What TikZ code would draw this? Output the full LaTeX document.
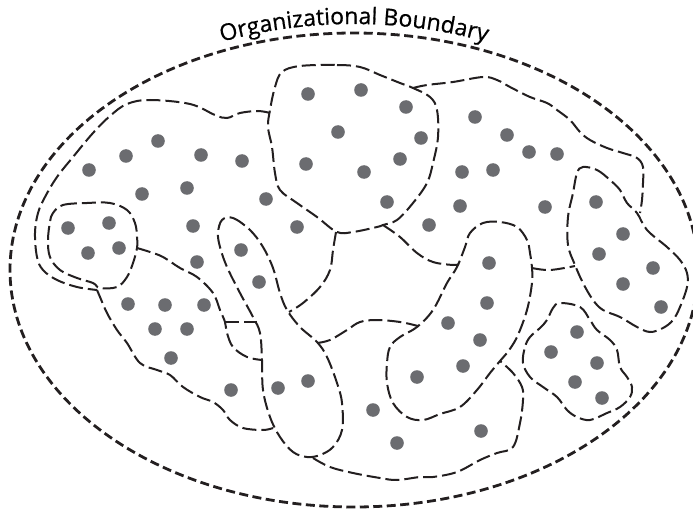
\documentclass[tikz,border=0pt]{standalone}
\usepackage{fontspec}
\usepackage{tikz}
\usetikzlibrary{decorations.text}
\newfontfamily\orgfont[FakeBold=0.7]{Open Sans}
\definecolor{ink}{RGB}{35,31,32}
\definecolor{dotgray}{RGB}{107,108,112}

\begin{document}
\begin{tikzpicture}[
  x=1pt, y=-1pt,
  rim/.style={draw=ink, line width=2.8pt, dash pattern=on 9pt off 4.5pt},
  zone/.style={draw=ink, line width=2pt, dash pattern=on 14pt off 5pt},
  dot/.style={fill=dotgray}
]
\useasboundingbox (0,0) rectangle (693,513);
\draw[rim] (354,270) ellipse [x radius=344, y radius=237];
\path[decorate, decoration={text along path, text align=center,
  text={|\orgfont\fontsize{23}{27}\selectfont|Organizational Boundary}}]
  (354,270) ++(-128:353 and 246) arc[start angle=-128, end angle=-52, x radius=353, y radius=246];
\draw[zone] plot[smooth, tension=0.6] coordinates {(270,113) (258,111) (240,113) (227,118) (215,115) (190,104) (150,100) (127,104) (110,116) (93,133) (73,157) (57,177) (45,197) (38,213) (35,233) (37,257) (43,270) (57,280) (77,287) (97,290)};
\draw[zone] plot[smooth cycle, tension=0.6] coordinates {(300,66) (337,65) (360,67) (380,75) (400,83) (413,88) (430,97) (437,110) (438,137) (433,163) (427,183) (413,203) (397,220) (383,225) (377,227) (353,232) (337,232) (317,217) (297,203) (280,190) (275,173) (272,147) (268,127) (270,110) (275,87) (282,72)};
\draw[zone] plot[smooth, tension=0.6] coordinates {(413,88) (427,85) (453,82) (483,77) (497,80) (510,87) (530,97) (547,103) (557,110) (570,120) (580,132) (590,140) (607,148) (623,153) (637,158) (643,167) (643,183) (642,200) (640,213)};
\draw[zone] plot[smooth cycle, tension=0.6] coordinates {(583,167) (597,170) (610,180) (620,190) (627,203) (637,213) (647,230) (667,247) (680,260) (687,273) (687,287) (680,307) (673,320) (663,328) (650,332) (637,327) (620,317) (603,310) (593,300) (583,283) (575,265) (568,245) (568,217) (573,193) (577,173)};
\draw[zone] plot[smooth cycle, tension=0.6] coordinates {(470,233) (483,223) (500,222) (517,227) (527,240) (530,253) (532,268) (532,283) (527,310) (517,337) (507,353) (500,361) (490,373) (477,390) (460,407) (440,414) (423,420) (407,417) (393,403) (387,383) (387,363) (390,347) (400,337) (417,327) (433,310) (447,283) (457,267) (465,247)};
\draw[zone] plot[smooth, tension=0.6] coordinates {(532,268) (550,270) (575,266)};
\draw[zone] plot[smooth, tension=0.6] coordinates {(383,225) (400,237) (417,253) (433,262) (453,265) (459,264)};
\draw[zone] plot[smooth cycle, tension=0.6] coordinates {(560,303) (580,307) (590,320) (597,330) (610,340) (617,350) (620,367) (627,377) (632,387) (630,397) (620,407) (607,413) (590,420) (577,417) (567,410) (557,397) (543,387) (530,377) (523,363) (525,347) (530,337) (540,328) (547,320) (553,308)};
\draw[zone] plot[smooth cycle, tension=0.6] coordinates {(222,220) (233,218) (250,230) (263,247) (273,268) (280,293) (287,310) (300,327) (317,342) (327,357) (337,383) (342,403) (342,430) (333,447) (320,455) (307,457) (293,452) (280,437) (270,417) (263,390) (262,360) (260,333) (253,317) (240,293) (227,267) (220,247) (218,233)};
\draw[zone] plot[smooth cycle, tension=0.6] coordinates {(53,213) (63,205) (87,203) (110,203) (127,210) (135,223) (137,237) (137,248) (133,263) (127,277) (117,287) (100,288) (93,283) (77,278) (60,270) (50,257) (48,240) (50,222)};
\draw[zone] plot[smooth, tension=0.6] coordinates {(137,248) (150,252) (163,257) (180,268) (197,277) (213,293) (220,310) (225,322) (227,333) (233,347) (247,357) (262,360)};
\draw[zone] plot[smooth, tension=0.6] coordinates {(97,290) (100,297) (107,313) (117,330) (127,343) (140,363) (157,370) (170,375) (183,387) (200,397) (213,402) (223,410) (230,420) (243,428) (263,430) (273,428)};
\draw[zone] (225,322) -- (257,322);
\draw[zone] plot[smooth, tension=0.6] coordinates {(336,232) (333,250) (330,270) (320,287) (303,303) (289,312)};
\draw[zone] plot[smooth, tension=0.6] coordinates {(317,343) (330,340) (347,330) (360,322) (377,320) (400,322) (418,326)};
\draw[zone] plot[smooth, tension=0.6] coordinates {(313,458) (330,467) (353,473) (380,478) (397,480) (420,477) (433,477) (457,472) (480,460) (497,453) (513,447) (520,423) (523,400) (522,387) (513,373) (500,361)};
\foreach \p in {(308,94),(361,90),(406,107),(338,132),(421,138),(306,164),(364,172),(400,159),(387,202),
  (89,170),(126,156),(158,141),(201,155),(242,161),(142,194),(187,188),(266,199),(193,226),(297,227),(197,262),
  (68,228),(109,223),(88,253),(119,248),(241,250),(259,282),(278,388),(308,381),
  (128,304),(165,305),(204,305),(155,329),(187,329),(171,358),(231,390),
  (475,117),(507,135),(529,152),(557,154),(462,172),(493,170),(460,206),(429,225),(545,207),
  (596,202),(623,234),(599,254),(653,268),(623,284),(661,307),
  (489,263),(487,303),(448,323),(480,340),(463,366),(417,377),
  (577,332),(551,352),(597,363),(575,382),(602,398),(373,410),(397,443),(481,431)}
  \fill[dot] \p circle[radius=6.8pt];
\end{tikzpicture}
\end{document}
